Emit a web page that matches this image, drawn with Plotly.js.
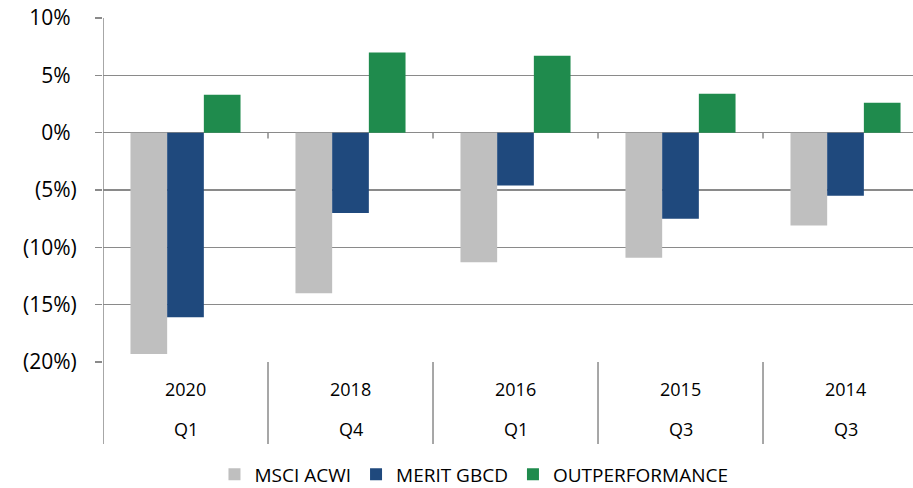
<!DOCTYPE html>
<html>
<head>
<meta charset="utf-8">
<script src="https://cdn.plot.ly/plotly-3.0.1.min.js"></script>
<style>html,body{margin:0;padding:0;background:#fff;}#chart{width:913px;height:488px;}</style>
</head>
<body>
<div id="chart"></div>
<script>
// Data
var years = ["2020", "2018", "2016", "2015", "2014"];
var quarters = ["Q1", "Q4", "Q1", "Q3", "Q3"];
var msciAcwi = [-19.3, -14.0, -11.3, -10.9, -8.1];
var meritGbcd = [-16.1, -7.0, -4.6, -7.5, -5.5];
var outperformance = [3.3, 7.0, 6.7, 3.4, 2.6];
var yTickVals = [10, 5, 0, -5, -10, -15, -20];
var yTickText = ["10%", "5%", "0%", "(5%)", "(10%)", "(15%)", "(20%)"];

var cats = years.map(function (y, i) { return y + " " + quarters[i]; });
var pad = '<span style="color:rgba(0,0,0,0)">)</span>';
var yText = yTickText.map(function (t) { return t.charAt(0) === "(" ? t : t + pad; });

var gridColor = "#8a8a8a";
var lw = 1.5;
var traces = [
  { type: "bar", name: "MSCI ACWI", x: cats, y: msciAcwi, marker: { color: "#bfbfbf" } },
  { type: "bar", name: "MERIT GBCD", x: cats, y: meritGbcd, marker: { color: "#1f497d" } },
  { type: "bar", name: "OUTPERFORMANCE", x: cats, y: outperformance, marker: { color: "#1f8b4d" } }
];

var shapes = [];
var ext = -82 / 344;
shapes.push({ type: "line", xref: "x", yref: "paper", x0: -0.5, x1: -0.5, y0: ext, y1: 1, line: { color: gridColor, width: lw } });
for (var i = 0; i < cats.length - 1; i++) {
  shapes.push({ type: "line", xref: "x", yref: "paper", x0: i + 0.5, x1: i + 0.5, y0: ext, y1: 0, line: { color: gridColor, width: lw } });
  shapes.push({ type: "line", xref: "x", yref: "y", x0: i + 0.5, x1: i + 0.5, y0: 0, y1: -0.5, line: { color: gridColor, width: lw } });
}

var annotations = [];
cats.forEach(function (c, i) {
  annotations.push({ xref: "x", yref: "paper", x: c, y: 0, yanchor: "middle", yshift: -27, text: years[i], showarrow: false, font: { family: "Open Sans", size: 18, color: "#000" } });
  annotations.push({ xref: "x", yref: "paper", x: c, y: 0, yanchor: "middle", yshift: -67, text: quarters[i], showarrow: false, font: { family: "Open Sans", size: 18, color: "#000" } });
});

var layout = {
  width: 913, height: 488,
  margin: { l: 103, r: 0, t: 18, b: 126, pad: 0 },
  paper_bgcolor: "#fff", plot_bgcolor: "#fff",
  barmode: "group", bargap: 0.333, bargroupgap: 0,
  showlegend: true,
  legend: { orientation: "h", x: 0.458, xanchor: "center", yref: "container", y: 0.028, yanchor: "middle", font: { family: "Open Sans", size: 19, color: "#000" }, traceorder: "normal", tracegroupgap: 0 },
  xaxis: { type: "category", range: [-0.5, 4.409], showticklabels: false, showgrid: false, zeroline: false, showline: false, ticks: "", fixedrange: true },
  yaxis: { range: [-20, 10], tickmode: "array", tickvals: yTickVals, ticktext: yText, showgrid: true, gridcolor: gridColor, gridwidth: lw, zeroline: false, showline: false, ticks: "outside", ticklen: 7, tickcolor: gridColor, tickwidth: lw, ticklabelstandoff: 14, tickfont: { family: "Open Sans", size: 21, color: "#000" } },
  shapes: shapes,
  annotations: annotations
};

Plotly.newPlot("chart", traces, layout, { displayModeBar: false, staticPlot: true });
</script>
</body>
</html>
